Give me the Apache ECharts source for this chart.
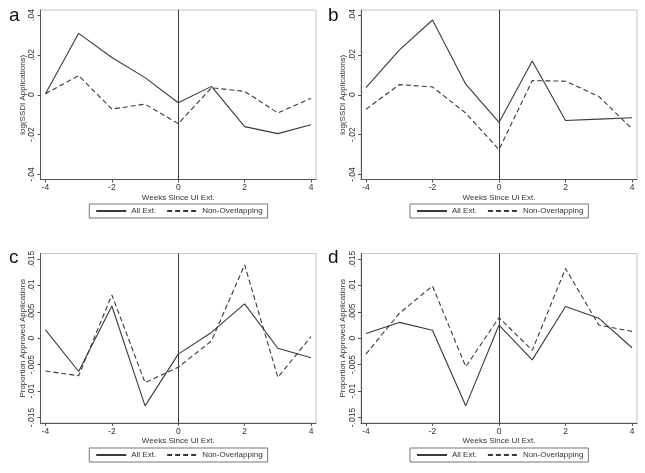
<!DOCTYPE html>
<html>
<head>
<meta charset="utf-8">
<script src="https://cdn.jsdelivr.net/npm/echarts@6/dist/echarts.min.js"></script>
<style>html,body{margin:0;padding:0;background:#fff}#c{width:645px;height:473px}</style>
</head>
<body>
<div id="c"></div>
<script>
var weeks = [-4, -3, -2, -1, 0, 1, 2, 3, 4];
var xTicks = [-4, -2, 0, 2, 4];
var yTicksTop = [-0.04, -0.02, 0, 0.02, 0.04];
var yTicksBottom = [-0.015, -0.01, -0.005, 0, 0.005, 0.01, 0.015];
var seriesNames = ['All Ext.', 'Non-Overlapping'];
var panelLetters = ['a', 'b', 'c', 'd'];
var yTitles = ['log(SSDI Applications)', 'log(SSDI Applications)', 'Proportion Approved Applications', 'Proportion Approved Applications'];
var xTitle = 'Weeks Since UI Ext.';

var aAll = [0.0005, 0.0308, 0.0187, 0.0086, -0.0040, 0.0042, -0.0160, -0.0195, -0.0150];
var aNon = [0.0005, 0.0096, -0.0072, -0.0047, -0.0145, 0.0035, 0.0017, -0.0091, -0.0018];
var bAll = [0.0036, 0.0224, 0.0375, 0.0053, -0.0139, 0.0169, -0.0129, -0.0122, -0.0115];
var bNon = [-0.0073, 0.0051, 0.0039, -0.0092, -0.0275, 0.0071, 0.0068, -0.0008, -0.0171];
var cAll = [0.0016, -0.0063, 0.0061, -0.0128, -0.0030, 0.0011, 0.0065, -0.0019, -0.0037];
var cNon = [-0.0062, -0.0071, 0.0082, -0.0084, -0.0055, -0.0005, 0.0139, -0.0074, 0.0003];
var dAll = [0.0009, 0.0030, 0.0015, -0.0128, 0.0025, -0.0041, 0.0060, 0.0038, -0.0018];
var dNon = [-0.0030, 0.0047, 0.0099, -0.0054, 0.0039, -0.0023, 0.0132, 0.0025, 0.0013];

var panelData = [[aAll, aNon], [bAll, bNon], [cAll, cNon], [dAll, dNon]];

function fmt(v) {
  if (Math.abs(v) < 1e-12) return '0';
  var s = String(+v.toFixed(4));
  return s.replace('0.', '.');
}

var FONT = 'Liberation Sans, Arial, sans-serif';
var TXT = '#333';
var AX = '#555';
var LINE = '#3a3a3a';

var layout = [
  {left: 40.5, top: 10, width: 275.5, height: 169.5, legendTop: 204, letterX: 9, letterY: 6},
  {left: 361, top: 10, width: 276, height: 169.5, legendTop: 204, letterX: 328, letterY: 6},
  {left: 40.5, top: 253.5, width: 275.5, height: 169.5, legendTop: 448, letterX: 9, letterY: 248},
  {left: 361, top: 253.5, width: 276, height: 169.5, legendTop: 448, letterX: 328, letterY: 248}
];

var grids = [], xAxes = [], yAxes = [], series = [], legends = [], graphics = [];
layout.forEach(function (L, i) {
  var top = i < 2;
  var yt = top ? yTicksTop : yTicksBottom;
  grids.push({left: L.left, top: L.top, width: L.width, height: L.height, show: true,
    borderColor: '#c4c4c4', borderWidth: 1, backgroundColor: '#fff'});
  xAxes.push({type: 'value', gridIndex: i, min: -4.15, max: 4.15,
    axisLine: {show: true, onZero: false, lineStyle: {color: AX, width: 1}},
    axisTick: {show: true, length: 3, customValues: xTicks, lineStyle: {color: AX}},
    axisLabel: {customValues: xTicks, color: TXT, fontFamily: FONT, fontSize: 8.5, margin: 4,
      formatter: function (v) { return String(v); }},
    splitLine: {show: false},
    name: xTitle, nameLocation: 'middle', nameGap: 14,
    nameTextStyle: {color: TXT, fontFamily: FONT, fontSize: 8}});
  var pad = top ? 0.0025 : 0.00105;
  yAxes.push({type: 'value', gridIndex: i, min: yt[0] - pad, max: yt[yt.length - 1] + pad,
    axisLine: {show: true, onZero: false, lineStyle: {color: AX, width: 1}},
    axisTick: {show: true, length: 3, customValues: yt, lineStyle: {color: AX}},
    axisLabel: {customValues: yt, rotate: 90, color: TXT, fontFamily: FONT, fontSize: 8.5, margin: 4,
      formatter: fmt},
    splitLine: {show: false},
    name: yTitles[i], nameLocation: 'middle', nameGap: 13.5,
    nameTextStyle: {color: TXT, fontFamily: FONT, fontSize: 8}});
  panelData[i].forEach(function (vals, k) {
    var s = {type: 'line', name: seriesNames[k], xAxisIndex: i, yAxisIndex: i,
      data: weeks.map(function (w, j) { return [w, vals[j]]; }),
      symbol: 'none', silent: true, animation: false,
      lineStyle: {color: LINE, width: 1.1, type: k === 0 ? 'solid' : [5, 3]},
      itemStyle: {color: LINE}};
    if (k === 0) {
      s.markLine = {silent: true, symbol: 'none', animation: false, label: {show: false},
        lineStyle: {color: LINE, width: 1, type: 'solid'}, data: [{xAxis: 0}]};
    }
    series.push(s);
  });
  legends.push({data: seriesNames, left: L.left + L.width / 2 - 89, top: L.legendTop,
    orient: 'horizontal', itemWidth: 30, itemHeight: 9, itemGap: 10,
    borderColor: '#777', borderWidth: 1, padding: [3, 5, 3, 6],
    itemStyle: {opacity: 0},
    selectedMode: false, textStyle: {color: TXT, fontFamily: FONT, fontSize: 8}});
  graphics.push({type: 'text', left: L.letterX, top: L.letterY,
    style: {text: panelLetters[i], fontFamily: FONT, fontSize: 19, fill: '#111'}});
});

var chart = echarts.init(document.getElementById('c'), null, {renderer: 'canvas'});
chart.setOption({animation: false, backgroundColor: '#fff', grid: grids, xAxis: xAxes, yAxis: yAxes,
  series: series, legend: legends, graphic: graphics});
</script>
</body>
</html>
